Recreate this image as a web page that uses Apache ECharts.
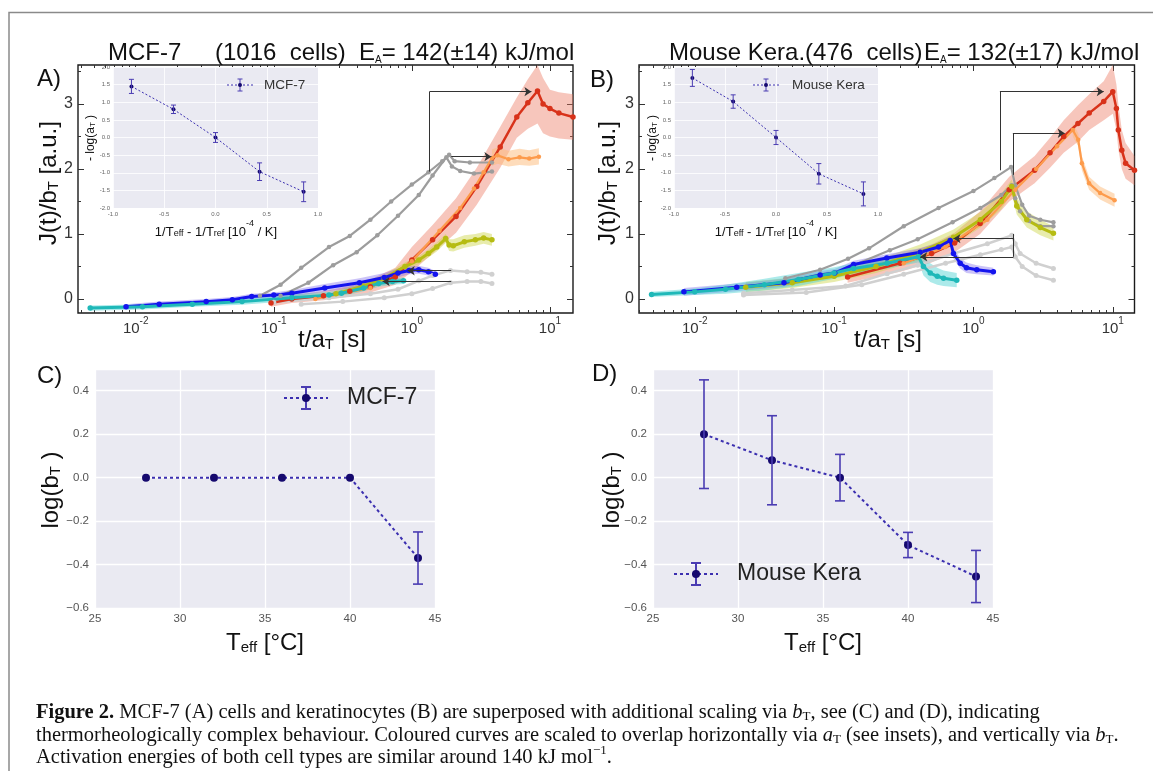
<!DOCTYPE html>
<html><head><meta charset="utf-8"><title>Figure 2</title>
<script src="https://cdn.jsdelivr.net/npm/echarts@6/dist/echarts.min.js"></script>
<style>html,body{margin:0;padding:0;background:#fff;}#chart{width:1153px;height:771px;}</style>
</head><body><div id="chart"></div>
<script>
const L = Math.log10;
const SANS = "'Liberation Sans', Arial, sans-serif";
const SERIF = "'Liberation Serif', 'Times New Roman', serif";

// ---------- axis ranges / ticks ----------
const A_trange = [0.00382, 14.69];
const B_trange = [0.00398, 14.32];
const J_range = [-0.215, 3.6];
const xMajorT = [0.01, 0.1, 1, 10];
const yMajorJ = [0, 1, 2, 3];
const yMinorJ = [0.5, 1.5, 2.5, 3.5];

// ---------- Panel A (MCF-7): t/a_T [s] , J(t)/b_T ----------
const redA_t  = [0.0955,0.135,0.229,0.355,0.501,0.759,1.0,1.413,2.089,2.951,4.365,5.754,6.918,8.128,8.913,10.0,11.61,14.69];
const redA_J  = [-0.06,0.00,0.05,0.12,0.19,0.34,0.60,0.91,1.27,1.73,2.34,2.80,3.02,3.20,3.00,2.93,2.86,2.80];
const redA_lo = [-0.12,-0.06,-0.02,0.04,0.10,0.22,0.42,0.70,1.02,1.45,2.02,2.48,2.62,2.70,2.55,2.50,2.47,2.45];
const redA_hi = [0.00,0.06,0.12,0.20,0.30,0.48,0.80,1.14,1.55,2.02,2.65,3.10,3.38,3.60,3.40,3.22,3.18,3.15];

const orangeA_t  = [0.200,0.501,1.0,1.585,2.239,2.818,3.311,3.802,4.169,5.012,6.026,7.079,8.318];
const orangeA_J  = [0.00,0.17,0.58,1.05,1.40,1.70,1.95,2.17,2.21,2.15,2.18,2.16,2.19];
const orangeA_bt = [3.802,4.169,5.012,6.026,7.079,8.318];
const orangeA_lo = [2.05,2.08,2.04,2.06,2.05,2.07];
const orangeA_hi = [2.30,2.33,2.28,2.31,2.29,2.32];

const greyA1_t = [0.0794,0.112,0.158,0.251,0.355,0.501,0.708,1.0,1.318,1.660,1.862,2.042,2.630,3.802];
const greyA1_J = [0.05,0.22,0.48,0.80,0.97,1.22,1.50,1.76,1.95,2.12,2.22,2.12,2.10,2.10];
const greyA2_t = [0.112,0.178,0.269,0.398,0.562,0.794,1.122,1.413,1.778,1.950,2.239,2.818,3.802];
const greyA2_J = [0.05,0.25,0.52,0.72,0.98,1.28,1.60,1.90,2.18,2.04,1.97,1.93,1.96];

const lgreyA1_t = [0.1,0.251,0.501,0.794,1.122,1.413,1.905,2.512,3.162,3.802];
const lgreyA1_J = [-0.05,0.02,0.08,0.15,0.28,0.36,0.44,0.42,0.41,0.38];
const lgreyA2_t = [0.158,0.316,0.631,1.0,1.413,1.905,2.512,3.162,3.802];
const lgreyA2_J = [-0.08,-0.04,0.02,0.08,0.16,0.25,0.27,0.27,0.24];

const yellowA_t  = [0.282,0.447,0.631,0.891,1.122,1.318,1.514,1.758,1.862,1.995,2.399,2.884,3.311,3.802];
const yellowA_J  = [0.08,0.20,0.32,0.50,0.60,0.70,0.80,0.93,0.83,0.82,0.88,0.91,0.94,0.91];
const yellowA_lo = [0.03,0.15,0.27,0.44,0.54,0.64,0.73,0.86,0.74,0.73,0.79,0.82,0.85,0.82];
const yellowA_hi = [0.13,0.25,0.37,0.56,0.66,0.76,0.87,1.00,0.92,0.92,0.98,1.00,1.03,1.00];

const blueA_t  = [0.00851,0.0148,0.0324,0.0501,0.0692,0.1,0.135,0.234,0.417,0.631,0.794,0.955,1.122,1.318,1.479];
const blueA_J  = [-0.12,-0.08,-0.04,-0.01,0.04,0.06,0.09,0.17,0.25,0.33,0.40,0.44,0.45,0.42,0.38];
const blueA_lo = [-0.16,-0.12,-0.08,-0.05,0.00,0.02,0.04,0.11,0.18,0.26,0.33,0.38,0.39,0.36,0.33];
const blueA_hi = [-0.08,-0.04,0.00,0.03,0.08,0.10,0.14,0.23,0.32,0.40,0.47,0.50,0.51,0.48,0.43];

const cyanA_t  = [0.00468,0.0112,0.0257,0.0589,0.135,0.251,0.309,0.447,0.575,0.724,0.871];
const cyanA_J  = [-0.14,-0.12,-0.08,-0.04,0.02,0.06,0.09,0.17,0.24,0.27,0.28];
const cyanA_lo = [-0.18,-0.16,-0.12,-0.09,-0.03,0.01,0.04,0.12,0.19,0.22,0.23];
const cyanA_hi = [-0.10,-0.08,-0.04,0.01,0.07,0.11,0.14,0.22,0.29,0.32,0.33];

const arrowA_from_t = [1.343,1.343,1.928,1.928,1.928];
const arrowA_from_J = [1.96,3.19,2.19,0.435,0.27];
const arrowA_to_t   = [1.343,7.345,3.767,0.933,0.615];
const arrowA_to_J   = [3.19,3.19,2.19,0.435,0.27];
const arrowA_head   = [0,1,1,1,1];

// ---------- Panel B (Mouse keratinocytes) ----------
const redB_t  = [0.125,0.298,0.501,0.733,1.117,1.807,2.748,3.548,4.446,5.623,6.776,8.610,10.0,10.62,10.96,11.61,12.36,14.32];
const redB_J  = [0.34,0.55,0.70,0.86,1.16,1.68,1.98,2.25,2.50,2.70,2.86,3.04,3.19,2.93,2.60,2.29,2.09,1.98];
const redB_lo = [0.25,0.42,0.56,0.72,1.00,1.50,1.78,2.02,2.25,2.42,2.60,2.75,2.85,2.60,2.30,2.00,1.85,1.75];
const redB_hi = [0.45,0.68,0.84,1.02,1.35,1.88,2.20,2.48,2.75,2.98,3.15,3.35,3.60,3.30,3.00,2.60,2.40,2.20];

const orangeB_t  = [0.316,0.631,1.259,1.995,2.818,3.981,5.164,5.649,5.998,6.761,8.110,10.30];
const orangeB_J  = [0.55,0.80,1.22,1.68,2.00,2.35,2.60,2.45,2.09,1.78,1.63,1.52];
const orangeB_bt = [5.164,5.649,5.998,6.761,8.110,10.30];
const orangeB_lo = [2.50,2.35,1.98,1.68,1.53,1.42];
const orangeB_hi = [2.70,2.55,2.20,1.88,1.73,1.62];

const greyB1_t = [0.0447,0.0794,0.126,0.178,0.316,0.562,1.0,1.413,1.862,1.995,2.239,2.512,3.020,3.750];
const greyB1_J = [0.32,0.45,0.62,0.78,1.12,1.40,1.66,1.86,2.03,1.75,1.45,1.28,1.22,1.18];
const greyB2_t = [0.0501,0.1,0.138,0.251,0.398,0.708,1.122,1.585,1.884,1.995,2.163,2.512,3.020,3.750];
const greyB2_J = [0.25,0.38,0.52,0.75,0.92,1.18,1.40,1.60,1.75,1.55,1.35,1.20,1.12,1.12];

const lgreyB1_t = [0.0224,0.0501,0.121,0.240,0.398,0.719,1.259,1.884,1.995,2.163,2.818,3.750];
const lgreyB1_J = [0.09,0.14,0.20,0.39,0.52,0.70,0.85,0.98,0.85,0.70,0.55,0.47];
const lgreyB2_t = [0.0224,0.0631,0.158,0.316,0.631,1.122,1.585,1.884,1.995,2.239,2.818,3.750];
const lgreyB2_J = [0.06,0.10,0.22,0.38,0.55,0.68,0.76,0.80,0.65,0.50,0.36,0.29];

const yellowB_t  = [0.0232,0.0501,0.1,0.2,0.415,0.719,1.122,1.585,1.884,2.046,2.415,3.020,3.750];
const yellowB_J  = [0.18,0.25,0.35,0.50,0.72,0.95,1.22,1.50,1.73,1.43,1.22,1.10,1.01];
const yellowB_lo = [0.10,0.17,0.26,0.40,0.60,0.83,1.10,1.38,1.62,1.30,1.10,0.98,0.90];
const yellowB_hi = [0.26,0.33,0.44,0.60,0.84,1.07,1.34,1.62,1.84,1.56,1.35,1.22,1.12];

const blueB_t  = [0.00836,0.0200,0.0437,0.0794,0.101,0.138,0.239,0.415,0.562,0.681,0.719,0.804,0.891,1.057,1.390];
const blueB_J  = [0.11,0.18,0.25,0.37,0.40,0.53,0.63,0.72,0.80,0.90,0.70,0.55,0.48,0.45,0.42];
const blueB_lo = [0.05,0.12,0.19,0.31,0.34,0.47,0.57,0.66,0.73,0.83,0.62,0.47,0.40,0.38,0.36];
const blueB_hi = [0.17,0.24,0.31,0.43,0.46,0.59,0.69,0.78,0.87,0.97,0.78,0.63,0.56,0.52,0.48];

const cyanB_t  = [0.00490,0.01,0.0166,0.0316,0.0555,0.1,0.138,0.240,0.404,0.438,0.490,0.550,0.610,0.759];
const cyanB_J  = [0.07,0.11,0.15,0.22,0.30,0.40,0.47,0.55,0.65,0.50,0.40,0.35,0.32,0.29];
const cyanB_lo = [0.03,0.06,0.08,0.13,0.20,0.31,0.39,0.47,0.56,0.36,0.26,0.22,0.20,0.18];
const cyanB_hi = [0.11,0.16,0.22,0.31,0.40,0.49,0.55,0.63,0.74,0.66,0.55,0.48,0.44,0.40];

const arrowB_from_t = [1.549,1.549,1.919,1.919,1.936,1.936,1.936];
const arrowB_from_J = [1.98,3.19,1.91,2.55,1.00,0.93,0.65];
const arrowB_to_t   = [1.549,8.61,1.919,4.519,1.936,0.719,0.415];
const arrowB_to_J   = [3.19,3.19,2.55,2.55,0.65,0.93,0.65];
const arrowB_head   = [0,1,0,1,0,1,1];

// ---------- insets: -log(a_T) vs 1/T_eff - 1/T_ref ----------
const insetA_x   = [-0.82,-0.41,0.0,0.43,0.86];
const insetA_y   = [1.45,0.80,0.0,-0.97,-1.54];
const insetA_err = [0.20,0.12,0.14,0.25,0.28];
const insetB_x   = [-0.82,-0.42,0.0,0.42,0.857];
const insetB_y   = [1.69,1.02,0.0,-1.03,-1.60];
const insetB_err = [0.24,0.19,0.20,0.29,0.34];

// ---------- panels C / D: log(b_T) vs T_eff ----------
const T_eff = [28,32,36,40,44];
const mcf_logbT = [0.0,0.0,0.0,0.0,-0.37];
const mcf_logbT_err = [0,0,0,0,0.12];
const kera_logbT = [0.20,0.08,0.0,-0.31,-0.455];
const kera_logbT_err = [0.25,0.205,0.107,0.058,0.12];

// ---------- colours ----------
const C_RED='#d8321a', C_RED_BAND='rgba(236,120,96,0.42)';
const C_OR='#fd9b4c', C_OR_BAND='rgba(253,185,120,0.5)';
const C_YG='#b6bc12', C_YG_BAND='rgba(205,212,70,0.45)';
const C_BL='#1414ee', C_BL_BAND='rgba(125,105,235,0.4)';
const C_CY='#1fb8b8', C_CY_BAND='rgba(70,208,208,0.45)';
const C_GR='#9d9d9d', C_LGR='#d0d0d0';
const C_ERR='#4a3cb2', C_MK='#15096e', C_DOT='#3b2fb0';

// ---------- builders ----------
const grids=[], xAxes=[], yAxes=[], series=[], graphics=[];
const noLine={show:false,onZero:false};

function tickCfg(vals,len){return {show:true,inside:true,length:len,customValues:vals,lineStyle:{color:'#333',width:1}};}

function mainPanel(box,tr,jr){
  const gi=grids.length;
  grids.push({left:box[0],top:box[1],width:box[2],height:box[3],show:true,borderColor:'#1a1a1a',borderWidth:1.4,backgroundColor:'rgba(255,255,255,0)',outerBoundsMode:'none',containLabel:false,z:0});
  const xmin=L(tr[0]), xmax=L(tr[1]);
  const xMaj=xMajorT.map(L);
  const xMin=[]; for(let n=-3;n<=1;n++) for(let k=2;k<=9;k++){const v=n+L(k); if(v>xmin&&v<xmax) xMin.push(v);}
  const xb={gridIndex:gi,type:'value',min:xmin,max:xmax,axisLine:noLine,splitLine:{show:false}};
  const xi=xAxes.length;
  xAxes.push(Object.assign({},xb,{position:'bottom',axisTick:tickCfg(xMaj,6),axisLabel:{show:true,customValues:xMaj,margin:3,
    formatter:v=>'{b|10}{s|'+Math.round(v)+'}',
    rich:{b:{fontSize:15,lineHeight:20,verticalAlign:'bottom',fontFamily:SANS,color:'#333'},s:{fontSize:10,lineHeight:12,verticalAlign:'top',fontFamily:SANS,color:'#333'}}}}));
  xAxes.push(Object.assign({},xb,{position:'bottom',axisTick:tickCfg(xMin,3),axisLabel:{show:false}}));
  xAxes.push(Object.assign({},xb,{position:'top',axisTick:tickCfg(xMaj,6),axisLabel:{show:false}}));
  xAxes.push(Object.assign({},xb,{position:'top',axisTick:tickCfg(xMin,3),axisLabel:{show:false}}));
  const yb={gridIndex:gi,type:'value',min:jr[0],max:jr[1],axisLine:noLine,splitLine:{show:false}};
  const yi=yAxes.length;
  yAxes.push(Object.assign({},yb,{position:'left',axisTick:tickCfg(yMajorJ,6),axisLabel:{show:true,customValues:yMajorJ,margin:5,fontSize:16,color:'#333',fontFamily:SANS}}));
  yAxes.push(Object.assign({},yb,{position:'left',axisTick:tickCfg(yMinorJ,3),axisLabel:{show:false}}));
  yAxes.push(Object.assign({},yb,{position:'right',axisTick:tickCfg(yMajorJ,6),axisLabel:{show:false}}));
  yAxes.push(Object.assign({},yb,{position:'right',axisTick:tickCfg(yMinorJ,3),axisLabel:{show:false}}));
  return {gi,xi,yi};
}

function insetPanel(box){
  const gi=grids.length;
  grids.push({left:box[0],top:box[1],width:box[2],height:box[3],show:true,backgroundColor:'#EAEAF2',borderWidth:0,outerBoundsMode:'none',containLabel:false,z:10});
  const xi=xAxes.length, yi=yAxes.length;
  xAxes.push({gridIndex:gi,type:'value',min:-1,max:1,interval:0.5,z:12,axisLine:noLine,axisTick:{show:false},
    splitLine:{show:true,lineStyle:{color:'#fff',width:0.8}},axisLabel:{fontSize:6,color:'#666',margin:3,fontFamily:SANS,formatter:v=>v.toFixed(1)}});
  yAxes.push({gridIndex:gi,type:'value',min:-2,max:2,interval:0.5,z:12,axisLine:noLine,axisTick:{show:false},
    splitLine:{show:true,lineStyle:{color:'#fff',width:0.8}},axisLabel:{fontSize:6,color:'#666',margin:3,fontFamily:SANS,formatter:v=>v.toFixed(1)}});
  return {gi,xi,yi};
}

function tPanel(box){
  const gi=grids.length;
  grids.push({left:box[0],top:box[1],width:box[2],height:box[3],show:true,backgroundColor:'#EAEAF2',borderWidth:0,outerBoundsMode:'none',containLabel:false,z:0});
  const xi=xAxes.length, yi=yAxes.length;
  xAxes.push({gridIndex:gi,type:'value',min:25,max:45,interval:5,z:2,axisLine:noLine,axisTick:{show:false},
    splitLine:{show:true,lineStyle:{color:'#fff',width:1.3}},axisLabel:{fontSize:11.5,color:'#555',margin:5,fontFamily:SANS}});
  yAxes.push({gridIndex:gi,type:'value',min:-0.6,max:0.5,interval:0.2,z:2,axisLine:noLine,axisTick:{show:false},
    splitLine:{show:true,lineStyle:{color:'#fff',width:1.3}},
    axisLabel:{fontSize:11.5,color:'#555',margin:6,fontFamily:SANS,showMaxLabel:false,
      formatter:v=>{const w=Math.abs(v)<1e-9?0:v; return w.toFixed(1).replace('-','\u2212');}}});
  return {gi,xi,yi};
}

function curve(p,t,J,color,size,w){
  series.push({type:'line',xAxisIndex:p.xi,yAxisIndex:p.yi,data:t.map((v,i)=>[L(v),J[i]]),
    symbol:'circle',symbolSize:size,showSymbol:true,showAllSymbol:true,lineStyle:{color:color,width:w},itemStyle:{color:color},
    silent:true,animation:false,z:3});
}
// shaded band between lo and hi, drawn as one polygon through the axis scales
function band(p,t,lo,hi,color){
  const n=t.length;
  series.push({type:'custom',xAxisIndex:p.xi,yAxisIndex:p.yi,z:2,silent:true,animation:false,clip:true,
    data:t.map((v,i)=>[L(v),lo[i],hi[i]]),
    renderItem:function(params,api){
      if(params.dataIndex!==0) return null;
      const pts=[];
      for(let i=0;i<n;i++) pts.push(api.coord([L(t[i]),hi[i]]));
      for(let i=n-1;i>=0;i--) pts.push(api.coord([L(t[i]),lo[i]]));
      return {type:'polygon',shape:{points:pts},style:{fill:color}};
    }});
}
function arrows(p,ft,fJ,tt,tJ,head){
  series.push({type:'line',xAxisIndex:p.xi,yAxisIndex:p.yi,data:[],silent:true,animation:false,z:6,
    markLine:{silent:true,animation:false,symbol:['none','arrow'],symbolSize:7,label:{show:false},
      lineStyle:{color:'#333',width:1,type:'solid'},emphasis:{disabled:true},
      data:ft.map((v,i)=>[{coord:[L(v),fJ[i]],symbol:'none'},{coord:[L(tt[i]),tJ[i]],symbol:head[i]?'arrow':'none',symbolSize:7}])}});
}
function errSeries(p,xs,ys,es,color,lw,cap,z){
  series.push({type:'custom',xAxisIndex:p.xi,yAxisIndex:p.yi,z:z,silent:true,animation:false,
    data:xs.map((v,i)=>[v,ys[i],es[i]]),
    renderItem:function(params,api){
      const x=api.value(0), y=api.value(1), e=api.value(2);
      if(!e) return null;
      const lo=api.coord([x,y-e]), hi=api.coord([x,y+e]);
      const st={stroke:color,lineWidth:lw};
      return {type:'group',children:[
        {type:'line',shape:{x1:lo[0],y1:lo[1],x2:hi[0],y2:hi[1]},style:st},
        {type:'line',shape:{x1:lo[0]-cap,y1:lo[1],x2:lo[0]+cap,y2:lo[1]},style:st},
        {type:'line',shape:{x1:hi[0]-cap,y1:hi[1],x2:hi[0]+cap,y2:hi[1]},style:st}]};
    }});
}
function dotted(p,xs,ys,lw,dash,msize,z){
  series.push({type:'line',xAxisIndex:p.xi,yAxisIndex:p.yi,data:xs.map((v,i)=>[v,ys[i]]),z:z,silent:true,animation:false,
    symbol:'circle',symbolSize:msize,itemStyle:{color:C_MK},lineStyle:{color:C_DOT,width:lw,type:dash}});
}

// ---------- build panels ----------
const PA=mainPanel([78,65,495,248],A_trange,J_range);
const PB=mainPanel([639,65,495.5,248],B_trange,J_range);

function fillMain(P,d){
  curve(P,d.lg1t,d.lg1J,C_LGR,5,2.5);
  curve(P,d.lg2t,d.lg2J,C_LGR,5,2.5);
  curve(P,d.g1t,d.g1J,C_GR,4.5,2.2);
  curve(P,d.g2t,d.g2J,C_GR,4.5,2.2);
  band(P,d.rt,d.rlo,d.rhi,C_RED_BAND);
  curve(P,d.rt,d.rJ,C_RED,5.5,2.5);
  band(P,d.obt,d.olo,d.ohi,C_OR_BAND);
  curve(P,d.ot,d.oJ,C_OR,4.5,2.2);
  band(P,d.yt,d.ylo,d.yhi,C_YG_BAND);
  curve(P,d.yt,d.yJ,C_YG,5.5,3);
  band(P,d.bt,d.blo,d.bhi,C_BL_BAND);
  curve(P,d.bt,d.bJ,C_BL,5.5,3);
  band(P,d.ct,d.clo,d.chi,C_CY_BAND);
  curve(P,d.ct,d.cJ,C_CY,5.5,3);
}
fillMain(PA,{lg1t:lgreyA1_t,lg1J:lgreyA1_J,lg2t:lgreyA2_t,lg2J:lgreyA2_J,g1t:greyA1_t,g1J:greyA1_J,g2t:greyA2_t,g2J:greyA2_J,
  rt:redA_t,rJ:redA_J,rlo:redA_lo,rhi:redA_hi,ot:orangeA_t,oJ:orangeA_J,obt:orangeA_bt,olo:orangeA_lo,ohi:orangeA_hi,
  yt:yellowA_t,yJ:yellowA_J,ylo:yellowA_lo,yhi:yellowA_hi,bt:blueA_t,bJ:blueA_J,blo:blueA_lo,bhi:blueA_hi,
  ct:cyanA_t,cJ:cyanA_J,clo:cyanA_lo,chi:cyanA_hi});
arrows(PA,arrowA_from_t,arrowA_from_J,arrowA_to_t,arrowA_to_J,arrowA_head);
fillMain(PB,{lg1t:lgreyB1_t,lg1J:lgreyB1_J,lg2t:lgreyB2_t,lg2J:lgreyB2_J,g1t:greyB1_t,g1J:greyB1_J,g2t:greyB2_t,g2J:greyB2_J,
  rt:redB_t,rJ:redB_J,rlo:redB_lo,rhi:redB_hi,ot:orangeB_t,oJ:orangeB_J,obt:orangeB_bt,olo:orangeB_lo,ohi:orangeB_hi,
  yt:yellowB_t,yJ:yellowB_J,ylo:yellowB_lo,yhi:yellowB_hi,bt:blueB_t,bJ:blueB_J,blo:blueB_lo,bhi:blueB_hi,
  ct:cyanB_t,cJ:cyanB_J,clo:cyanB_lo,chi:cyanB_hi});
arrows(PB,arrowB_from_t,arrowB_from_J,arrowB_to_t,arrowB_to_J,arrowB_head);

const IA=insetPanel([113,67,205,141]);
const IB=insetPanel([674,67,204,141]);
dotted(IA,insetA_x,insetA_y,1,[2,2],4,15);
errSeries(IA,insetA_x,insetA_y,insetA_err,C_ERR,1,2.5,16);
dotted(IB,insetB_x,insetB_y,1,[2,2],4,15);
errSeries(IB,insetB_x,insetB_y,insetB_err,C_ERR,1,2.5,16);

const PC=tPanel([95,369,340,239]);
const PD=tPanel([653,369,340,239]);
dotted(PC,T_eff,mcf_logbT,2,[3,3],8,5);
errSeries(PC,T_eff,mcf_logbT,mcf_logbT_err,C_ERR,1.6,5,6);
dotted(PD,T_eff,kera_logbT,2,[3,3],8,5);
errSeries(PD,T_eff,kera_logbT,kera_logbT_err,C_ERR,1.6,5,6);

// ---------- text / legends ----------
function txt(x,y,text,style,rot){
  graphics.push({type:'text',x:x,y:y,rotation:rot||0,z:100,silent:true,
    style:Object.assign({text:text,fill:'#111',fontFamily:SANS,fontSize:24,align:'left',verticalAlign:'middle'},style||{})});
}
function richSans(big,small){
  return {m:{fontFamily:SANS,fontSize:big,fill:'#111',lineHeight:big+6,verticalAlign:'bottom'},
          s:{fontFamily:SANS,fontSize:small,fill:'#111',lineHeight:small+2,verticalAlign:'bottom'},
          p:{fontFamily:SANS,fontSize:small,fill:'#111',lineHeight:small+2,verticalAlign:'top'}};
}
function legendGlyph(cx,cy,half,eh,cap,r,lw,dash){
  const st={stroke:C_ERR,lineWidth:lw};
  graphics.push({type:'line',z:100,silent:true,shape:{x1:cx-half,y1:cy,x2:cx+half,y2:cy},style:{stroke:C_DOT,lineWidth:lw,lineDash:dash}});
  graphics.push({type:'line',z:100,silent:true,shape:{x1:cx,y1:cy-eh,x2:cx,y2:cy+eh},style:st});
  graphics.push({type:'line',z:100,silent:true,shape:{x1:cx-cap,y1:cy-eh,x2:cx+cap,y2:cy-eh},style:st});
  graphics.push({type:'line',z:100,silent:true,shape:{x1:cx-cap,y1:cy+eh,x2:cx+cap,y2:cy+eh},style:st});
  graphics.push({type:'circle',z:101,silent:true,shape:{cx:cx,cy:cy,r:r},style:{fill:C_MK}});
}

// figure frame (top and left edges)
graphics.push({type:'polyline',z:100,silent:true,shape:{points:[[9,771],[9,12.5],[1153,12.5]]},style:{stroke:'#8a8a8a',lineWidth:1.5,fill:null}});

// panel letters
txt(37,79,'A)'); txt(590,80,'B)'); txt(37,376,'C)'); txt(592,374,'D)');

// titles
const tR=richSans(24,10);
txt(108,50,'{m|MCF-7}',{rich:tR});
txt(215,50,'{m|(1016  cells)}',{rich:tR});
txt(359,50,'{m|E}{s|A}{m|= 142(\u00b114) kJ/mol}',{rich:tR});
txt(669,50,'{m|Mouse Kera.(476  cells)}',{rich:tR});
txt(924,50,'{m|E}{s|A}{m|= 132(\u00b117) kJ/mol}',{rich:tR});

// axis titles main panels
const aR=richSans(24,15);
txt(46,183,'{m|J(t)/b}{s|T}{m| [a.u.]}',{align:'center',rich:aR},Math.PI/2);
txt(605,183,'{m|J(t)/b}{s|T}{m| [a.u.]}',{align:'center',rich:aR},Math.PI/2);
txt(332,337,'{m|t/a}{s|T}{m| [s]}',{align:'center',rich:aR});
txt(888,337,'{m|t/a}{s|T}{m| [s]}',{align:'center',rich:aR});

// inset titles / legends
const iR=richSans(12,8);
txt(88,138,'{m|- log(a}{s|T}{m| )}',{align:'center',rich:iR},Math.PI/2);
txt(650,138,'{m|- log(a}{s|T}{m| )}',{align:'center',rich:iR},Math.PI/2);
const ixR=richSans(13,9);
txt(216,229,'{m|1/T}{s|eff}{m| - 1/T}{s|ref}{m| [10}{p|-4}{m| / K]}',{align:'center',rich:ixR});
txt(776,229,'{m|1/T}{s|eff}{m| - 1/T}{s|ref}{m| [10}{p|-4}{m| / K]}',{align:'center',rich:ixR});
legendGlyph(240,85,13,6,2.5,2,1,[2,2]);
txt(264,85,'MCF-7',{fontSize:13.5,fill:'#333'});
legendGlyph(766,85,13,6,2.5,2,1,[2,2]);
txt(792,85,'Mouse Kera',{fontSize:13.5,fill:'#333'});

// C / D titles and legends
txt(48,490,'{m|log(b}{s|T}{m| )}',{align:'center',rich:aR},Math.PI/2);
txt(609,490,'{m|log(b}{s|T}{m| )}',{align:'center',rich:aR},Math.PI/2);
txt(265,640,'{m|T}{s|eff}{m| [\u00b0C]}',{align:'center',rich:aR});
txt(823,640,'{m|T}{s|eff}{m| [\u00b0C]}',{align:'center',rich:aR});
legendGlyph(306,398,22,11,5,4,2,[3,3]);
txt(347,398,'MCF-7',{fontSize:23,fill:'#222'});
legendGlyph(696,574,22,11,5,4,2,[3,3]);
txt(737,574,'Mouse Kera',{fontSize:23,fill:'#222'});

// caption
const CF=20.5;
const cR={
  fb:{fontFamily:SERIF,fontSize:CF,fontWeight:'bold',fill:'#111',lineHeight:24,verticalAlign:'bottom'},
  r:{fontFamily:SERIF,fontSize:CF,fill:'#111',lineHeight:24,verticalAlign:'bottom'},
  i:{fontFamily:SERIF,fontSize:CF,fontStyle:'italic',fill:'#111',lineHeight:24,verticalAlign:'bottom'},
  s:{fontFamily:SERIF,fontSize:13,fill:'#111',lineHeight:14,verticalAlign:'bottom'},
  p:{fontFamily:SERIF,fontSize:13,fill:'#111',lineHeight:14,verticalAlign:'top'}
};
txt(36,711,'{fb|Figure 2.}{r| MCF-7 (A) cells and keratinocytes (B) are superposed with additional scaling via }{i|b}{s|T}{r|, see (C) and (D), indicating}',{rich:cR});
txt(36,734,'{r|thermorheologically complex behaviour. Coloured curves are scaled to overlap horizontally via }{i|a}{s|T}{r| (see insets), and vertically via }{i|b}{s|T}{r|.}',{rich:cR});
txt(36,756,'{r|Activation energies of both cell types are similar around 140 kJ mol}{p|\u22121}{r|.}',{rich:cR});

const chart=echarts.init(document.getElementById('chart'),null,{renderer:'canvas'});
chart.setOption({
  animation:false,
  backgroundColor:'#ffffff',
  textStyle:{fontFamily:SANS},
  grid:grids, xAxis:xAxes, yAxis:yAxes, series:series, graphic:graphics
});
</script></body></html>
